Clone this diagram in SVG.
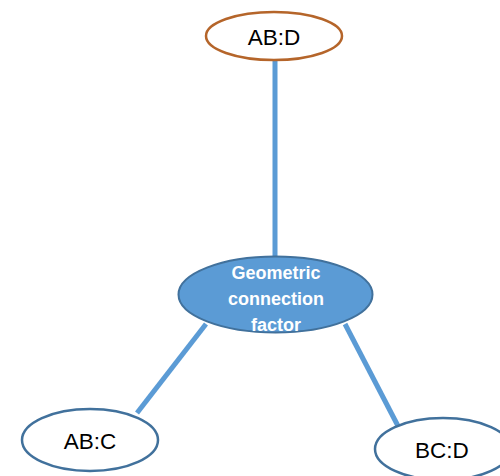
<svg xmlns="http://www.w3.org/2000/svg" width="500" height="476" viewBox="0 0 500 476">
<style>
.conn{stroke:#5B9BD5;stroke-width:5;fill:none}
.node{fill:#ffffff;stroke:#41719C;stroke-width:2.5}
.lbl{font-family:"Liberation Sans",Arial,sans-serif;font-size:22.5px;fill:#000000;text-anchor:middle}
.clbl{font-family:"Liberation Sans",Arial,sans-serif;font-size:18px;font-weight:bold;fill:#ffffff;text-anchor:middle}
</style>
<rect width="500" height="476" fill="#ffffff"/>
<g id="connectors">
<line class="conn" x1="275" y1="60" x2="275" y2="258"/>
<line class="conn" x1="206" y1="324" x2="137" y2="413"/>
<line class="conn" x1="345" y1="324" x2="398" y2="426"/>
</g>
<g id="node-abd">
<ellipse cx="274" cy="36" rx="68" ry="24" fill="#ffffff" stroke="#B5652A" stroke-width="2.5"/>
<text class="lbl" x="274" y="45">AB:D</text>
</g>
<g id="node-center">
<ellipse cx="275.5" cy="294.5" rx="97" ry="38" fill="#5B9BD5" stroke="#41719C" stroke-width="2"/>
<text class="clbl" x="276" y="279">Geometric</text>
<text class="clbl" x="276" y="305">connection</text>
<text class="clbl" x="276" y="331">factor</text>
</g>
<g id="node-abc">
<ellipse class="node" cx="90" cy="440" rx="68" ry="31"/>
<text class="lbl" x="90" y="449">AB:C</text>
</g>
<g id="node-bcd">
<ellipse class="node" cx="443" cy="449" rx="68" ry="31"/>
<text class="lbl" x="442" y="458">BC:D</text>
</g>
</svg>
